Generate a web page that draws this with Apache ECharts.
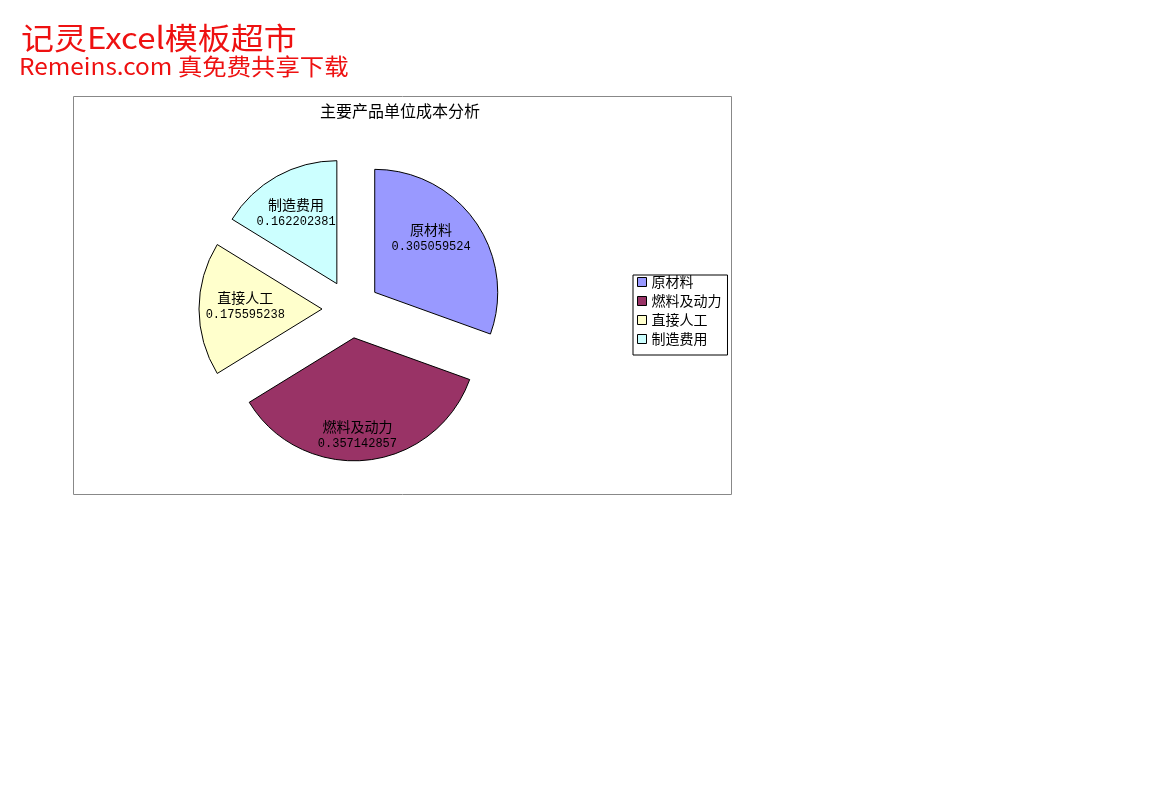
<!DOCTYPE html>
<html><head><meta charset="utf-8">
<script src="https://cdn.jsdelivr.net/npm/echarts@6/dist/echarts.min.js"></script>
<style>html,body{margin:0;padding:0;background:#fff}#c{width:1167px;height:802px}</style>
</head><body><div id="c"></div>
<script>
const categories = ['原材料', '燃料及动力', '直接人工', '制造费用'];
const values = [0.305059524, 0.357142857, 0.175595238, 0.162202381];
const colors = ['#9999FF', '#993366', '#FFFFCC', '#CCFFFF'];
const chartTitle = '主要产品单位成本分析';
const header1 = '记灵Excel模板超市';
const header2 = 'Remeins.com 真免费共享下载';

// label placement style: radial position (fraction of radius) and angular nudge (degrees)
const labelRadiusFrac = [0.61, 0.765, 0.60, 0.635];
const labelAngleNudge = [-9, 4, 2, -1];
const R = 123;

const chart = echarts.init(document.getElementById('c'), null, {renderer: 'canvas'});
const monoFont = '"Liberation Mono", "Noto Sans CJK SC", monospace';
const cjkFont = '"Noto Sans CJK SC", sans-serif';
const total = values.reduce((a, b) => a + b, 0);
const midAngles = [];
{ let acc = 0; values.forEach(v => { midAngles.push((acc + v / 2) / total * 2 * Math.PI); acc += v; }); }

chart.setOption({
  animation: false,
  title: {
    text: chartTitle, left: 395, top: 98, textAlign: 'center',
    textStyle: {fontSize: 16, fontWeight: 'normal', color: '#000', fontFamily: cjkFont}
  },
  legend: {
    orient: 'vertical', left: 633, top: 275,
    data: categories,
    icon: 'rect', itemWidth: 9, itemHeight: 9, itemGap: 5,
    backgroundColor: '#fff', borderColor: '#000', borderWidth: 1,
    padding: [0, 6, 9, 4],
    selectedMode: false,
    itemStyle: {borderColor: '#000', borderWidth: 1},
    textStyle: {fontSize: 14, lineHeight: 14, color: '#000', fontFamily: cjkFont}
  },
  graphic: [
    {type: 'rect', shape: {x: 73.5, y: 96.5, width: 658, height: 398}, style: {fill: 'none', stroke: '#888', lineWidth: 1}, z: -10, silent: true},
    {type: 'text', x: 21, y: 38, scaleX: 1.1, style: {text: header1, fill: '#ee1111', verticalAlign: 'middle', font: '30px "Noto Sans CJK SC", sans-serif'}},
    {type: 'text', x: 19, y: 66, scaleX: 1.06, style: {text: header2, fill: '#ee1111', verticalAlign: 'middle', font: '23px "Noto Sans CJK SC", sans-serif'}}
  ],
  series: [{
    type: 'pie',
    center: [351, 309],
    radius: R,
    startAngle: 90,
    clockwise: true,
    selectedMode: 'multiple',
    selectedOffset: 29,
    avoidLabelOverlap: false,
    emphasis: {disabled: true, scale: false},
    itemStyle: {borderColor: '#000', borderWidth: 1},
    label: {
      show: true, position: 'inside', color: '#000',
      formatter: p => '{n|' + p.name + '}\n{v|' + p.value + '}',
      rich: {
        n: {fontSize: 14, lineHeight: 17, fontFamily: cjkFont, color: '#000'},
        v: {fontSize: 12, lineHeight: 17, fontFamily: monoFont, color: '#000'}
      }
    },
    labelLayout: p => {
      const i = p.dataIndex, a = midAngles[i];
      const half = 0.5 * R;
      const b = a + labelAngleNudge[i] * Math.PI / 180;
      const r = labelRadiusFrac[i] * R;
      return {
        dx: Math.sin(b) * r - Math.sin(a) * half,
        dy: -Math.cos(b) * r + Math.cos(a) * half
      };
    },
    labelLine: {show: false},
    data: categories.map((n, i) => ({name: n, value: values[i], selected: true, itemStyle: {color: colors[i]}}))
  }]
});
</script></body></html>
